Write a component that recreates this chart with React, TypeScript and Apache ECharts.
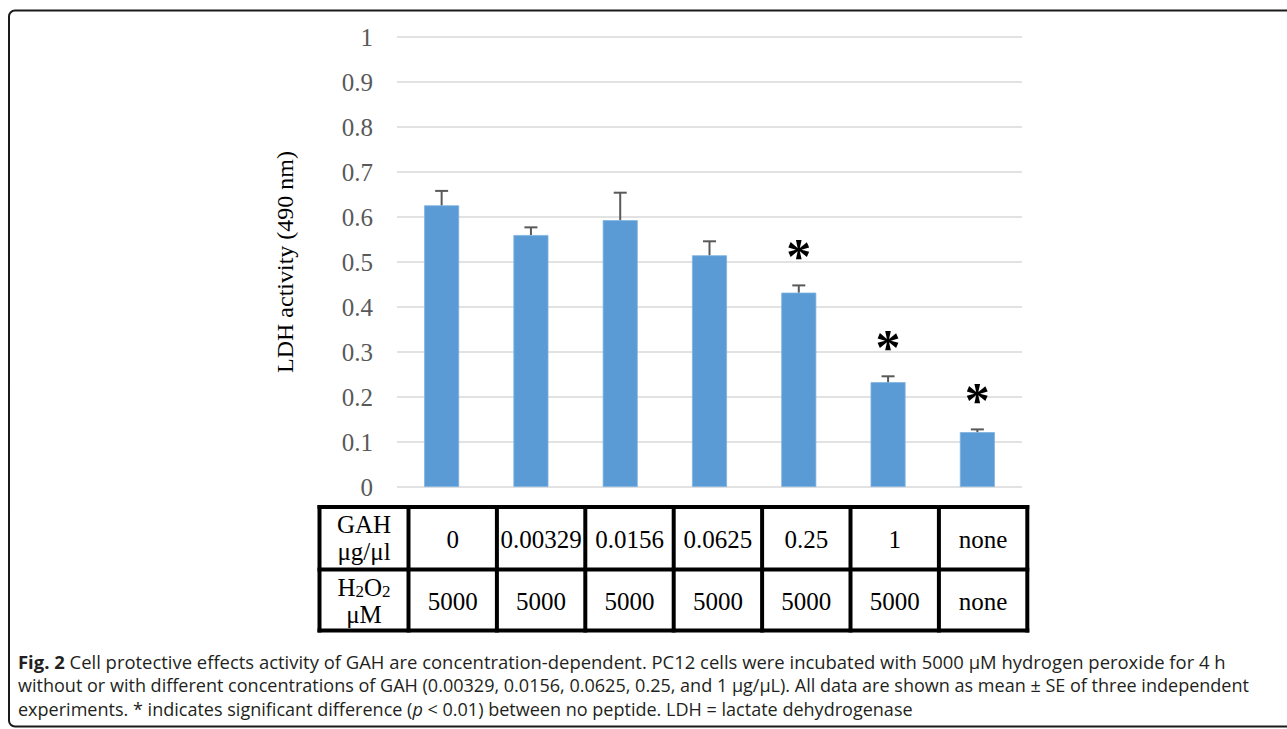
import { useEffect, useRef } from "react";
import * as echarts from "echarts";

// GAH concentration groups (µg/µl) and measured LDH activity
const groups = ["0", "0.00329", "0.0156", "0.0625", "0.25", "1", "none"];
const ldhMean = [0.626, 0.56, 0.593, 0.515, 0.432, 0.233, 0.122];
const ldhSE = [0.032, 0.017, 0.061, 0.031, 0.016, 0.013, 0.006];
const significant = [0, 0, 0, 0, 1, 1, 1];

// Table rows printed under the axis
const gahRow = ["0", "0.00329", "0.0156", "0.0625", "0.25", "1", "none"];
const h2o2Row = ["5000", "5000", "5000", "5000", "5000", "5000", "none"];

const captionLines = [
  "{b|Fig. 2} Cell protective effects activity of GAH are concentration-dependent. PC12 cells were incubated with 5000 μM hydrogen peroxide for 4 h",
  "without or with different concentrations of GAH (0.00329, 0.0156, 0.0625, 0.25, and 1 μg/μL). All data are shown as mean ± SE of three independent",
  "experiments. * indicates significant difference ({i|p} < 0.01) between no peptide. LDH = lactate dehydrogenase",
];

const SERIF = "'Liberation Serif', 'Times New Roman', serif";
const SANS = "'Open Sans', 'Noto Sans', sans-serif";
// per-line size keeps each caption line inside the frame width
const captionSizes = [18.45, 18.05, 18.05];

function buildTable(): any[] {
  const left = 319.5;
  const labelW = 89;
  const colW = 88.4;
  const rows = [507, 569.5, 630.5];
  const right = left + labelW + colW * groups.length;
  const ink = { stroke: "#000", lineWidth: 4, lineCap: "square" };
  const els: any[] = [];
  rows.forEach((y) =>
    els.push({ type: "line", shape: { x1: left, y1: y, x2: right, y2: y }, style: ink })
  );
  const xs = [left];
  for (let k = 0; k <= groups.length; k++) xs.push(left + labelW + k * colW);
  xs.forEach((x) =>
    els.push({ type: "line", shape: { x1: x, y1: rows[0], x2: x, y2: rows[2] }, style: ink })
  );
  const rowMid = [(rows[0] + rows[1]) / 2, (rows[1] + rows[2]) / 2];
  const cellText = {
    fontFamily: SERIF,
    fontSize: 25,
    fill: "#000",
    align: "center",
    verticalAlign: "middle",
  };
  const labelX = left + labelW / 2;
  els.push({ type: "text", x: labelX, y: rowMid[0] - 14, style: { ...cellText, text: "GAH" } });
  els.push({ type: "text", x: labelX, y: rowMid[0] + 13, style: { ...cellText, text: "μg/μl" } });
  els.push({
    type: "text",
    x: labelX,
    y: rowMid[1] - 13,
    style: {
      ...cellText,
      text: "{n|H}{s|2}{n|O}{s|2}",
      rich: {
        n: { fontFamily: SERIF, fontSize: 25, lineHeight: 26, verticalAlign: "bottom" },
        s: { fontFamily: SERIF, fontSize: 17, lineHeight: 21, verticalAlign: "bottom" },
      },
    },
  });
  els.push({ type: "text", x: labelX, y: rowMid[1] + 14, style: { ...cellText, text: "μM" } });
  for (let k = 0; k < groups.length; k++) {
    const cx = left + labelW + (k + 0.5) * colW;
    els.push({ type: "text", x: cx, y: rowMid[0] + 1, style: { ...cellText, text: gahRow[k] } });
    els.push({ type: "text", x: cx, y: rowMid[1] + 1, style: { ...cellText, text: h2o2Row[k] } });
  }
  return els;
}

function buildCaption(): any[] {
  return captionLines.map((line, i) => {
    const size = captionSizes[i];
    return {
      type: "text",
      x: 18,
      y: 661 + i * 24,
      style: {
        text: line,
        fontFamily: SANS,
        fontSize: size,
        fill: "#231f20",
        align: "left",
        verticalAlign: "middle",
        rich: {
          b: { fontFamily: SANS, fontSize: size, fontWeight: "bold", fill: "#231f20" },
          i: { fontFamily: SANS, fontSize: size, fontStyle: "italic", fill: "#231f20" },
        },
      },
    };
  });
}

export default function App() {
  const ref = useRef<HTMLDivElement>(null);

  useEffect(() => {
    if (!ref.current) return;
    const chart = echarts.init(ref.current, undefined, { renderer: "svg" });

    const errData = groups.map((_, i) => [i, ldhMean[i], ldhSE[i], significant[i]]);

    chart.setOption({
      animation: false,
      backgroundColor: "#fff",
      grid: { left: 397, right: 265, top: 37, bottom: 242, containLabel: false },
      xAxis: {
        type: "category",
        data: groups,
        axisLine: { show: false },
        axisTick: { show: false },
        axisLabel: { show: false },
      },
      yAxis: {
        type: "value",
        min: 0,
        max: 1,
        interval: 0.1,
        name: "LDH activity (490 nm)",
        nameLocation: "middle",
        nameGap: 100,
        nameTextStyle: { fontFamily: SERIF, fontSize: 24, color: "#000" },
        axisLine: { show: false },
        axisTick: { show: false },
        axisLabel: {
          margin: 24,
          fontFamily: SERIF,
          fontSize: 25,
          color: "#595959",
          formatter: (v: number) => String(+v.toFixed(1)),
        },
        splitLine: { lineStyle: { color: "#d9d9d9", width: 1.5 } },
      },
      series: [
        {
          type: "bar",
          data: ldhMean,
          barWidth: 35,
          itemStyle: { color: "#5b9bd5", borderColor: "#7fb2e0", borderWidth: 0.8 },
          z: 2,
        },
        {
          type: "custom",
          data: errData,
          z: 3,
          renderItem: (_params: any, api: any) => {
            const i = api.value(0);
            const mean = api.value(1);
            const se = api.value(2);
            const sig = api.value(3);
            const base = api.coord([i, mean]);
            const top = api.coord([i, mean + se]);
            const cap = 6.5;
            const line = { stroke: "#595959", lineWidth: 2 };
            const children: any[] = [
              { type: "line", shape: { x1: base[0], y1: base[1], x2: top[0], y2: top[1] }, style: line },
              { type: "line", shape: { x1: top[0] - cap, y1: top[1], x2: top[0] + cap, y2: top[1] }, style: line },
            ];
            if (sig) {
              children.push({
                type: "text",
                x: top[0],
                y: top[1] - 29,
                style: {
                  text: "*",
                  fontFamily: SERIF,
                  fontWeight: "bold",
                  fontSize: 50,
                  fill: "#000",
                  align: "center",
                  verticalAlign: "middle",
                },
              });
            }
            return { type: "group", children };
          },
        },
      ],
      graphic: [
        {
          type: "rect",
          shape: { x: 9, y: 10.5, width: 1300, height: 716, r: 6 },
          style: { fill: "none", stroke: "#1a1a1a", lineWidth: 2 },
          silent: true,
        },
        ...buildTable(),
        ...buildCaption(),
      ],
    });

    return () => chart.dispose();
  }, []);

  return (
    <div
      ref={ref}
      style={{ position: "absolute", left: 0, top: 0, width: 1287, height: 729, background: "#fff" }}
    />
  );
}
